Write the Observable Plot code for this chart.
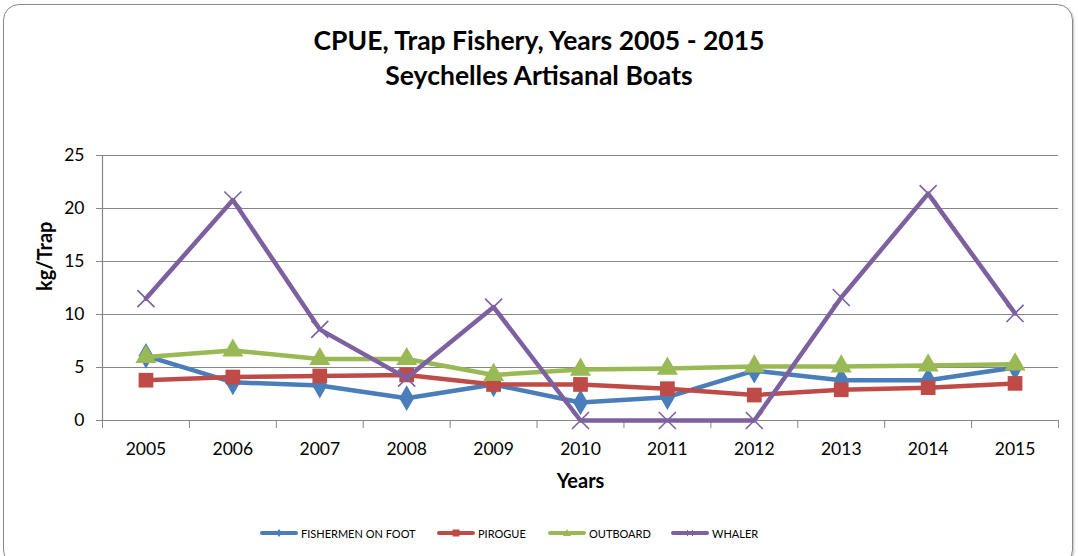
<!DOCTYPE html>
<html>
<head>
<meta charset="utf-8">
<script src="https://cdn.jsdelivr.net/npm/d3@7"></script>
<script src="https://cdn.jsdelivr.net/npm/@observablehq/plot@0.6"></script>
<style>
  html, body { margin: 0; padding: 0; background: #fff; }
  body { width: 1078px; height: 556px; overflow: hidden; font-family: Lato, "Open Sans", sans-serif; }
  #frame { position: absolute; left: 3px; top: 4px; width: 1068px; height: 560px; border: 1.5px solid #8a8a8a; border-radius: 16px; box-shadow: 1px 1px 2px rgba(0,0,0,0.25); }
  #title { position: absolute; left: 0; width: 1078px; top: 23px; text-align: center; font-weight: bold; font-size: 26.5px; line-height: 35px; color: #000; }
  #chart { position: absolute; left: 0; top: 0; }
  #legend { position: absolute; top: 523px; left: 0; width: 1078px; height: 20px; font-size: 11px; color: #000; }
  .item { position: absolute; top: 0; display: flex; align-items: center; height: 20px; }
  .item svg { margin-right: 3px; }
</style>
</head>
<body>
<div id="frame"></div>
<div id="title">CPUE, Trap Fishery, Years 2005 - 2015<br>Seychelles Artisanal Boats</div>
<div id="chart"></div>
<div id="legend"></div>
<script>
const years = [2005, 2006, 2007, 2008, 2009, 2010, 2011, 2012, 2013, 2014, 2015];
const fishermenOnFoot = [6.1, 3.6, 3.3, 2.1, 3.4, 1.7, 2.2, 4.7, 3.8, 3.8, 5.0];
const pirogue = [3.8, 4.1, 4.2, 4.3, 3.4, 3.4, 3.0, 2.4, 2.9, 3.1, 3.5];
const outboard = [6.0, 6.6, 5.8, 5.8, 4.3, 4.8, 4.9, 5.1, 5.1, 5.2, 5.3];
const whaler = [11.5, 20.8, 8.6, 4.0, 10.7, 0, 0, 0, 11.6, 21.4, 10.1];
const yTicks = [0, 5, 10, 15, 20, 25];

const seriesDefs = [
  {name: "FISHERMEN ON FOOT", values: fishermenOnFoot, color: "#4A7EBB", symbol: "diamond", r: 7.8},
  {name: "PIROGUE", values: pirogue, color: "#BE4B48", symbol: "square", r: 8.3},
  {name: "OUTBOARD", values: outboard, color: "#98B954", symbol: "triangle", r: 7.8},
  {name: "WHALER", values: whaler, color: "#7D60A0", symbol: "times", r: 7.8}
];

const bounds = years.map(y => y - 0.5).concat([years[years.length - 1] + 0.5]);
const grid = "#868686";

const marks = [
  Plot.gridY(yTicks, {stroke: grid, strokeOpacity: 1, strokeWidth: 1.2}),
  Plot.ruleX([bounds[0]], {stroke: grid, strokeWidth: 1.2}),
  Plot.ruleY([0], {stroke: grid, strokeWidth: 1.2}),
  Plot.axisY(yTicks, {tickSize: 6, tickPadding: 12, stroke: grid, fontSize: 17.5, label: null, color: "#000"}),
  Plot.axisX(bounds, {tickSize: 8, tickFormat: () => "", stroke: grid, label: null}),
  Plot.axisX(years, {tickSize: 0, tickPadding: 22, tickFormat: d => String(d), fontSize: 17.5, label: null, color: "#000"}),
  Plot.text(["kg/Trap"], {frameAnchor: "left", dx: -57, dy: 3, rotate: -90, fontSize: 20, fontWeight: "bold", fill: "#000", lineAnchor: "middle"}),
  Plot.text(["Years"], {frameAnchor: "bottom", dy: 61, fontSize: 20, fontWeight: "bold", fill: "#000", lineAnchor: "middle"})
];

for (const s of seriesDefs) {
  const rows = years.map((y, i) => ({year: y, value: s.values[i]}));
  marks.push(Plot.line(rows, {x: "year", y: "value", stroke: s.color, strokeWidth: 4.5, strokeLinejoin: "round", strokeLinecap: "round"}));
  if (s.symbol === "times") {
    marks.push(Plot.dot(rows, {x: "year", y: "value", symbol: "times", r: s.r, stroke: s.color, strokeWidth: 1.6}));
  } else {
    marks.push(Plot.dot(rows, {x: "year", y: "value", symbol: s.symbol, r: s.r, fill: s.color, stroke: "none"}));
  }
}

const chart = Plot.plot({
  width: 1078,
  height: 500,
  marginLeft: 102,
  marginRight: 20,
  marginTop: 155,
  marginBottom: 80,
  style: {fontFamily: "Lato, 'Open Sans', sans-serif", background: "transparent", overflow: "visible"},
  x: {type: "linear", domain: [bounds[0], bounds[bounds.length - 1]], axis: null},
  y: {type: "linear", domain: [0, 25], axis: null},
  marks
});
document.getElementById("chart").appendChild(chart);

// legend
const legendX = [260, 437, 548, 671];
const legend = document.getElementById("legend");
seriesDefs.forEach((s, i) => {
  const div = document.createElement("div");
  div.className = "item";
  div.style.left = legendX[i] + "px";
  let marker = "";
  if (s.symbol === "diamond") marker = `<path d="M19,6 L22,10 L19,14 L16,10Z" fill="${s.color}"/>`;
  else if (s.symbol === "square") marker = `<rect x="15.5" y="6.5" width="7" height="7" fill="${s.color}"/>`;
  else if (s.symbol === "triangle") marker = `<path d="M19,6 L23,13 L15,13Z" fill="${s.color}"/>`;
  else marker = `<path d="M16,7 L22,13 M22,7 L16,13" stroke="${s.color}" stroke-width="1"/>`;
  div.innerHTML = `<svg width="38" height="20"><line x1="2" y1="10" x2="36" y2="10" stroke="${s.color}" stroke-width="4" stroke-linecap="round"/>${marker}</svg><span>${s.name}</span>`;
  legend.appendChild(div);
});
</script>
</body>
</html>
